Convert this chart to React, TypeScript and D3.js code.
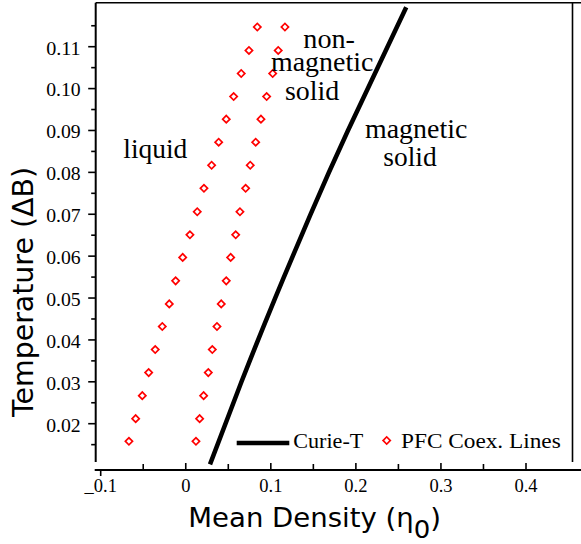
import React from "react";
import * as d3 from "d3";

// ---- data ----
const temperatures = [
  0.0158, 0.0212, 0.0267, 0.0322, 0.0377, 0.0432, 0.0486, 0.0541, 0.0597, 0.0651,
  0.0706, 0.0762, 0.0817, 0.0872, 0.0927, 0.0981, 0.1036, 0.1091, 0.1147,
];
const liquidDensity = [
  -0.0668, -0.0589, -0.0511, -0.0436, -0.0359, -0.0276, -0.0194, -0.0119, -0.0036, 0.0049,
  0.0135, 0.0214, 0.0304, 0.0387, 0.0476, 0.0563, 0.0652, 0.0743, 0.0841,
];
const solidDensity = [
  0.012, 0.0163, 0.021, 0.0265, 0.0312, 0.0367, 0.0417, 0.0476, 0.0528, 0.0587,
  0.0637, 0.0704, 0.0758, 0.0822, 0.0884, 0.0951, 0.1022, 0.1087, 0.1166,
];
const curieT = [0.0103, 0.03, 0.05, 0.07, 0.09, 0.1194];
const curieDensity = [0.0285, 0.0655, 0.1051, 0.1467, 0.1907, 0.2592];

const xTickValues = [-0.1, 0, 0.1, 0.2, 0.3, 0.4];
const xTickLabels = ["_0.1", "0", "0.1", "0.2", "0.3", "0.4"];
const xMinorTicks = [-0.05, 0.05, 0.15, 0.25, 0.35];
const yTickValues = [0.02, 0.03, 0.04, 0.05, 0.06, 0.07, 0.08, 0.09, 0.1, 0.11];
const yTickLabels = ["0.02", "0.03", "0.04", "0.05", "0.06", "0.07", "0.08", "0.09", "0.10", "0.11"];
const yMinorTicks = [0.015, 0.025, 0.035, 0.045, 0.055, 0.065, 0.075, 0.085, 0.095, 0.105, 0.115];

const legendLabels = ["Curie-T", "PFC Coex. Lines"];

const SERIF = "'Liberation Serif', 'Times New Roman', serif";
const SANS = "'DejaVu Sans', sans-serif";

export default function App() {
  const W = 581;
  const H = 544;
  const x = d3.scaleLinear().domain([-0.1, 0.4]).range([100.7, 526]);
  const y = d3.scaleLinear().domain([0.02, 0.11]).range([423.7, 46.7]);

  const left = 95.7;
  const right = 572.5;
  const top = 2.7;
  const frameBottom = 462;
  const axisY = 470;

  const curiePts: [number, number][] = curieT.map((t, i) => [curieDensity[i], t]);
  const line = d3
    .line<[number, number]>()
    .x((d) => x(d[0]))
    .y((d) => y(d[1]))
    .curve(d3.curveNatural);

  const diamond = d3.symbol().type(d3.symbolSquare).size(26)() as string;

  const red = "#ff0000";

  return (
    <svg
      width={W}
      height={H}
      style={{ position: "absolute", left: 0, top: 0, background: "#fff" }}
    >
      <rect x={0} y={0} width={W} height={H} fill="#fff" />
      {/* frame */}
      <line x1={left} x2={W} y1={top} y2={top} stroke="#000" strokeWidth={1.6} />
      <line x1={right} x2={right} y1={top} y2={frameBottom} stroke="#000" strokeWidth={1.6} />
      <line x1={left} x2={left} y1={top} y2={frameBottom} stroke="#000" strokeWidth={2} />
      <line x1={left - 1} x2={W} y1={axisY} y2={axisY} stroke="#000" strokeWidth={2} />

      {/* y ticks */}
      {yTickValues.map((v, i) => (
        <g key={"yt" + i}>
          <line x1={left - 7.5} x2={left} y1={y(v)} y2={y(v)} stroke="#000" strokeWidth={1.6} />
          <text
            x={80.7}
            y={y(v) + 7.8}
            textAnchor="end"
            fontFamily={SERIF}
            fontSize={18.5}
            textLength={34.5}
            lengthAdjust="spacingAndGlyphs"
          >
            {yTickLabels[i]}
          </text>
        </g>
      ))}
      {yMinorTicks.map((v, i) => (
        <line key={"ym" + i} x1={left - 4.5} x2={left} y1={y(v)} y2={y(v)} stroke="#000" strokeWidth={1.6} />
      ))}

      {/* x ticks */}
      {xTickValues.map((v, i) => (
        <g key={"xt" + i}>
          {i === 0 ? (
            <line x1={x(v)} x2={x(v)} y1={axisY} y2={axisY + 6} stroke="#000" strokeWidth={1.6} />
          ) : (
            <line x1={x(v)} x2={x(v)} y1={axisY - 7} y2={axisY} stroke="#000" strokeWidth={1.6} />
          )}
          <text x={x(v)} y={491.7} textAnchor="middle" fontFamily={SERIF} fontSize={18.5}>
            {xTickLabels[i]}
          </text>
        </g>
      ))}
      {xMinorTicks.map((v, i) => (
        <line key={"xm" + i} x1={x(v)} x2={x(v)} y1={axisY - 6} y2={axisY} stroke="#000" strokeWidth={1.6} />
      ))}

      {/* Curie line */}
      <path d={line(curiePts) || ""} fill="none" stroke="#000" strokeWidth={4.5} />

      {/* coexistence diamonds */}
      {temperatures.map((t, i) => (
        <g key={"d" + i}>
          <path
            d={diamond}
            transform={`translate(${x(liquidDensity[i])},${y(t)}) rotate(45)`}
            fill="none"
            stroke={red}
            strokeWidth={1.7}
          />
          <path
            d={diamond}
            transform={`translate(${x(solidDensity[i])},${y(t)}) rotate(45)`}
            fill="none"
            stroke={red}
            strokeWidth={1.7}
          />
        </g>
      ))}

      {/* region labels */}
      <g fontFamily={SERIF} fontSize={27.5} fill="#000">
        <text x={123.3} y={158.3} textLength={64} lengthAdjust="spacingAndGlyphs">liquid</text>
        <text x={303.3} y={48.3} textLength={51.7} lengthAdjust="spacingAndGlyphs">non-</text>
        <text x={271} y={71} textLength={102.3} lengthAdjust="spacingAndGlyphs">magnetic</text>
        <text x={285} y={100} textLength={54.3} lengthAdjust="spacingAndGlyphs">solid</text>
        <text x={365} y={138.3} textLength={102.3} lengthAdjust="spacingAndGlyphs">magnetic</text>
        <text x={383.3} y={165.5} textLength={53.4} lengthAdjust="spacingAndGlyphs">solid</text>
      </g>

      {/* legend */}
      <line x1={236.7} x2={289.3} y1={443} y2={443} stroke="#000" strokeWidth={4.5} />
      <text x={293.3} y={447.5} fontFamily={SERIF} fontSize={21} textLength={70} lengthAdjust="spacingAndGlyphs">
        {legendLabels[0]}
      </text>
      <path d={diamond} transform={`translate(386.7,440.5) rotate(45)`} fill="none" stroke={red} strokeWidth={1.7} />
      <text x={401} y={447.5} fontFamily={SERIF} fontSize={21} textLength={159.7} lengthAdjust="spacingAndGlyphs">
        {legendLabels[1]}
      </text>

      {/* axis titles */}
      <g transform="translate(188.3,526.7) scale(1.04,1)">
        <text x={0} y={0} fontFamily={SANS} fontSize={26.5} fill="#000">
          Mean Density (η
          <tspan dy={11} fontSize={25}>0</tspan>
          <tspan dy={-11}>)</tspan>
        </text>
      </g>
      <text
        transform="translate(33.3,292) rotate(-90)"
        textAnchor="middle"
        fontFamily={SANS}
        fontSize={28.5}
        textLength={250}
        lengthAdjust="spacingAndGlyphs"
      >
        Temperature (ΔB)
      </text>
    </svg>
  );
}
